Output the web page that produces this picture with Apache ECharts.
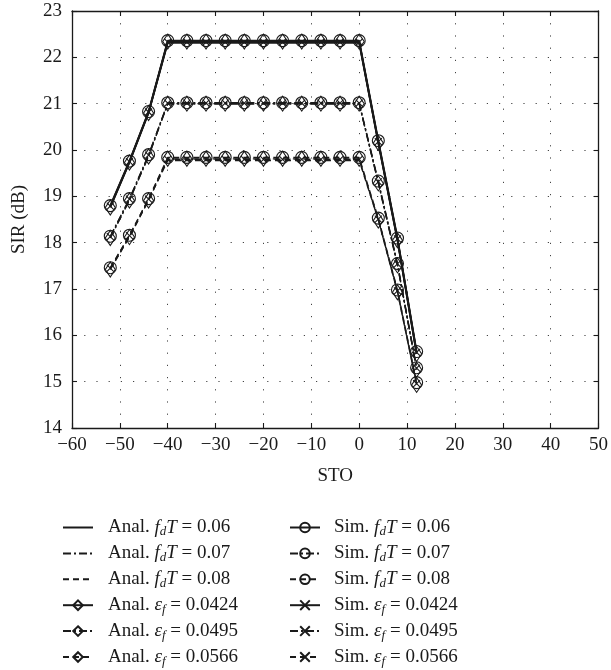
<!DOCTYPE html>
<html>
<head>
<meta charset="utf-8">
<script src="https://cdn.jsdelivr.net/npm/echarts@6/dist/echarts.min.js"></script>
<style>html,body{margin:0;padding:0;background:#fff}#c{width:611px;height:670px}</style>
</head>
<body>
<div id="c"></div>
<script>
// ---- data ----
var sto = [-52, -48, -44, -40, -36, -32, -28, -24, -20, -16, -12, -8, -4, 0, 4, 8, 12];
var analFd006 = [18.77, 19.74, 20.81, 22.31, 22.31, 22.31, 22.31, 22.31, 22.31, 22.31, 22.31, 22.31, 22.31, 22.31, 20.16, 18.06, 15.61];
var analFd007 = [18.11, 18.92, 19.87, 20.99, 20.99, 20.99, 20.99, 20.99, 20.99, 20.99, 20.99, 20.99, 20.99, 20.99, 19.29, 17.52, 15.27];
var analFd008 = [17.43, 18.13, 18.92, 19.77, 19.77, 19.77, 19.77, 19.77, 19.77, 19.77, 19.77, 19.77, 19.77, 19.77, 18.49, 16.94, 14.94];
var simFd006 = [18.8, 19.76, 20.83, 22.36, 22.36, 22.36, 22.36, 22.36, 22.36, 22.36, 22.36, 22.36, 22.36, 22.36, 20.2, 18.1, 15.65];
var simFd007 = [18.14, 18.95, 19.9, 21.02, 21.02, 21.02, 21.02, 21.02, 21.02, 21.02, 21.02, 21.02, 21.02, 21.02, 19.33, 17.55, 15.3];
var simFd008 = [17.46, 18.16, 18.95, 19.84, 19.84, 19.84, 19.84, 19.84, 19.84, 19.84, 19.84, 19.84, 19.84, 19.84, 18.53, 16.98, 14.98];
var analEps1 = [18.76, 19.73, 20.8, 22.34, 22.34, 22.34, 22.34, 22.34, 22.34, 22.34, 22.34, 22.34, 22.34, 22.34, 20.15, 18.05, 15.6];
var analEps2 = [18.1, 18.91, 19.86, 21.0, 21.0, 21.0, 21.0, 21.0, 21.0, 21.0, 21.0, 21.0, 21.0, 21.0, 19.28, 17.51, 15.26];
var analEps3 = [17.42, 18.12, 18.91, 19.81, 19.81, 19.81, 19.81, 19.81, 19.81, 19.81, 19.81, 19.81, 19.81, 19.81, 18.48, 16.93, 14.93];
var simEps1 = [18.79, 19.75, 20.82, 22.33, 22.33, 22.33, 22.33, 22.33, 22.33, 22.33, 22.33, 22.33, 22.33, 22.33, 20.18, 18.08, 15.63];
var simEps2 = [18.13, 18.94, 19.89, 21.01, 21.01, 21.01, 21.01, 21.01, 21.01, 21.01, 21.01, 21.01, 21.01, 21.01, 19.31, 17.54, 15.29];
var simEps3 = [17.45, 18.15, 18.94, 19.8, 19.8, 19.8, 19.8, 19.8, 19.8, 19.8, 19.8, 19.8, 19.8, 19.8, 18.51, 16.96, 14.96];
var xTicks = [-60, -50, -40, -30, -20, -10, 0, 10, 20, 30, 40, 50];
var yTicks = [14, 15, 16, 17, 18, 19, 20, 21, 22, 23];
var legendLeft = ['Anal. fdT = 0.06', 'Anal. fdT = 0.07', 'Anal. fdT = 0.08', 'Anal. ef = 0.0424', 'Anal. ef = 0.0495', 'Anal. ef = 0.0566'];
var legendRight = ['Sim. fdT = 0.06', 'Sim. fdT = 0.07', 'Sim. fdT = 0.08', 'Sim. ef = 0.0424', 'Sim. ef = 0.0495', 'Sim. ef = 0.0566'];

var FONT = '"Liberation Serif", "DejaVu Serif", serif';
var FS = 19;
var INK = '#1a1a1a';
var SOLID = 'solid', DASHDOT = [8, 3, 2, 3], DASHED = [6, 4];
var CROSS = 'path://M0,0L10,10M10,0L0,10';

function pairs(ys) { return sto.map(function (x, i) { return [x, ys[i]]; }); }

function mk(name, ys, dash, symbol, size, w) {
  return {
    name: name, type: 'line', data: pairs(ys),
    symbol: symbol || 'none', symbolSize: size || 0, showAllSymbol: true,
    lineStyle: { color: INK, width: w || 1.3, type: dash },
    itemStyle: { color: 'rgba(0,0,0,0)', borderColor: INK, borderWidth: 1.1 },
    emphasis: { disabled: true }, z: 2
  };
}

var series = [
  mk(legendLeft[0], analFd006, SOLID, null, 0, 1.8),
  mk(legendLeft[1], analFd007, DASHDOT),
  mk(legendLeft[2], analFd008, DASHED),
  mk(legendLeft[3], analEps1, SOLID, 'diamond', [10, 15], 1.8),
  mk(legendLeft[4], analEps2, DASHDOT, 'diamond', [10, 15]),
  mk(legendLeft[5], analEps3, DASHED, 'diamond', [10, 15]),
  mk(legendRight[0], simFd006, SOLID, 'circle', 12, 1.8),
  mk(legendRight[1], simFd007, DASHDOT, 'circle', 12),
  mk(legendRight[2], simFd008, DASHED, 'circle', 12),
  mk(legendRight[3], simEps1, SOLID, CROSS, 7, 1.8),
  mk(legendRight[4], simEps2, DASHDOT, CROSS, 7),
  mk(legendRight[5], simEps3, DASHED, CROSS, 7)
];

function legendFmt(name) {
  var parts = name.split(' ');
  var lead = parts[0];
  var sym = parts[1];
  var val = parts[3];
  var mid = sym === 'fdT' ? '{i|f}{s|d}{i|T}' : '{i|\u03b5}{s|f}';
  return '{n0|' + lead + ' }' + mid + '{n| = ' + val + '}';
}
function mkRich(padL) {
  return {
    n0: { fontFamily: FONT, fontSize: FS, color: INK, lineHeight: 22, padding: [0, 0, 0, padL], verticalAlign: 'middle' },
    n: { fontFamily: FONT, fontSize: FS, color: INK, lineHeight: 22, verticalAlign: 'middle' },
    i: { fontFamily: FONT, fontSize: FS, fontStyle: 'italic', color: INK, lineHeight: 22, verticalAlign: 'middle' },
    s: { fontFamily: FONT, fontSize: 13, fontStyle: 'italic', color: INK, lineHeight: 15, verticalAlign: 'bottom' }
  };
}
function mkLegend(names, left, padL, noSymbolCount) {
  return {
    data: names.map(function (n, k) {
      return k < noSymbolCount ? { name: n, itemStyle: { borderColor: 'rgba(0,0,0,0)', color: 'rgba(0,0,0,0)' } } : { name: n };
    }),
    orient: 'vertical', left: left, top: 518, padding: 0,
    itemWidth: 30, itemHeight: 12, itemGap: 5.4, selectedMode: false,
    formatter: legendFmt, textStyle: { rich: mkRich(padL), fontFamily: FONT, fontSize: FS, color: INK }
  };
}
function fmtNum(v) { return v < 0 ? '\u2212' + Math.abs(v) : String(v); }

var axisLine = { show: true, onZero: false, lineStyle: { color: INK, width: 1.3 } };
var tick = { show: true, inside: true, length: 5, lineStyle: { color: INK, width: 1.1 } };
var dotted = { show: true, lineStyle: { color: '#444', width: 1, type: [1.2, 11] } };

var option = {
  animation: false,
  backgroundColor: '#fff',
  grid: { left: 72, right: 10, top: 11, bottom: 242, containLabel: false },
  xAxis: [
    { type: 'value', min: xTicks[0], max: xTicks[xTicks.length - 1], interval: 10, position: 'bottom',
      name: 'STO', nameLocation: 'middle', nameGap: 39,
      nameTextStyle: { fontFamily: FONT, fontSize: FS, color: INK },
      axisLine: axisLine, axisTick: tick, splitLine: dotted,
      axisLabel: { fontFamily: FONT, fontSize: FS, color: INK, margin: 8, formatter: fmtNum } },
    { type: 'value', min: xTicks[0], max: xTicks[xTicks.length - 1], interval: 10, position: 'top',
      axisLine: axisLine, axisTick: tick, splitLine: { show: false }, axisLabel: { show: false } }
  ],
  yAxis: [
    { type: 'value', min: yTicks[0], max: yTicks[yTicks.length - 1], interval: 1, position: 'left',
      name: 'SIR (dB)', nameLocation: 'middle', nameGap: 43, nameRotate: 90,
      nameTextStyle: { fontFamily: FONT, fontSize: FS, color: INK },
      axisLine: axisLine, axisTick: tick, splitLine: dotted,
      axisLabel: { fontFamily: FONT, fontSize: FS, color: INK, margin: 10, formatter: fmtNum } },
    { type: 'value', min: yTicks[0], max: yTicks[yTicks.length - 1], interval: 1, position: 'right',
      axisLine: axisLine, axisTick: tick, splitLine: { show: false }, axisLabel: { show: false } }
  ],
  legend: [mkLegend(legendLeft, 62, 10, 3), mkLegend(legendRight, 289, 9, 0)],
  series: series
};
var chart = echarts.init(document.getElementById('c'), null, { renderer: 'canvas' });
chart.setOption(option);
</script>
</body>
</html>
